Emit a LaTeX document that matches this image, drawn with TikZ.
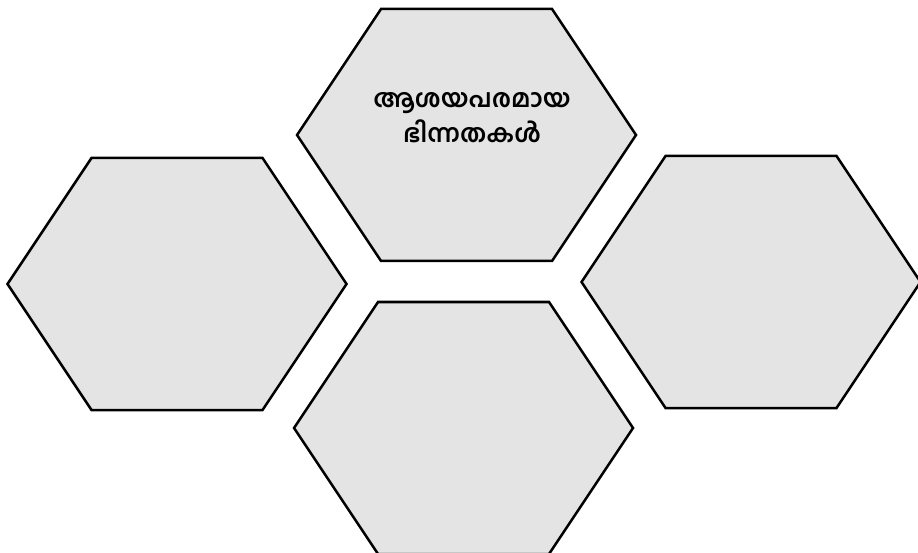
\documentclass[tikz,border=0pt]{standalone}
\usepackage{fontspec}
\usetikzlibrary{calc}
\newfontfamily\mlfont[Script=Malayalam]{Hind Kochi}
\begin{document}
\begin{tikzpicture}[x=1pt,y=-1pt,
  hexbox/.style={draw=black,fill=hexfill,line width=2.5pt,line join=miter},
  lbl/.style={align=center,font=\mlfont\bfseries\fontsize{25}{35}\selectfont,inner sep=0pt}]
\definecolor{hexfill}{HTML}{E4E4E4}
\useasboundingbox (0,0) rectangle (918,553);
\clip (0,0) rectangle (918,553);
% hexagon: center (cx,cy), half-width 169.5, half top edge 85.5, half-height 126
\newcommand{\hexat}[3]{%
  \coordinate (#3) at (#1,#2);
  \draw[hexbox] ($(#3)+(-85.5,-126)$) -- ($(#3)+(85.5,-126)$) -- ($(#3)+(169.5,0)$)
    -- ($(#3)+(85.5,126)$) -- ($(#3)+(-85.5,126)$) -- ($(#3)+(-169.5,0)$) -- cycle;}
\hexat{466.5}{135}{htop}
\hexat{177}{284}{hleft}
\hexat{751}{282}{hright}
\hexat{463.5}{428}{hbottom}
\node[lbl] (ltop) at (472,118) {ആശയപരമായ\\ഭിന്നതകൾ};
\end{tikzpicture}
\end{document}
